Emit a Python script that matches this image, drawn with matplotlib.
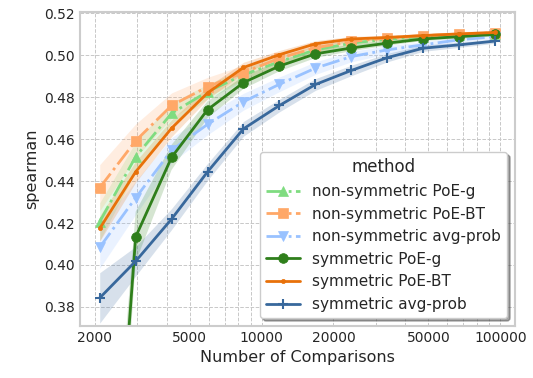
import matplotlib
matplotlib.use("Agg")
import matplotlib.pyplot as plt
import matplotlib.ticker as mticker
import numpy as np
import seaborn as sns

# ---------------------------------------------------------------------------
# Data
# ---------------------------------------------------------------------------
n_comparisons = [2100, 2970, 4200, 5940, 8400, 11880, 16800, 23760, 33600, 47520, 67200, 95040]

ns_poe_g  = [0.4206, 0.4516, 0.4723, 0.4826, 0.4906, 0.4969, 0.5025, 0.5057, 0.5076, 0.5088, 0.5095, 0.5100]
ns_poe_bt = [0.4368, 0.4592, 0.4760, 0.4849, 0.4917, 0.4985, 0.5035, 0.5065, 0.5082, 0.5093, 0.5100, 0.5106]
ns_avg    = [0.4084, 0.4320, 0.4547, 0.4670, 0.4778, 0.4861, 0.4938, 0.4993, 0.5025, 0.5049, 0.5073, 0.5088]
s_poe_g   = [0.1800, 0.4134, 0.4513, 0.4740, 0.4869, 0.4948, 0.5006, 0.5034, 0.5057, 0.5077, 0.5088, 0.5099]
s_poe_bt  = [0.4174, 0.4444, 0.4652, 0.4820, 0.4941, 0.5002, 0.5054, 0.5077, 0.5084, 0.5093, 0.5101, 0.5108]
s_avg     = [0.3843, 0.4018, 0.4219, 0.4444, 0.4649, 0.4760, 0.4860, 0.4927, 0.4988, 0.5033, 0.5049, 0.5067]

# confidence band half-widths
ns_poe_g_ci  = [0.009, 0.007, 0.005, 0.0035, 0.003, 0.0025, 0.002, 0.0015, 0.0012, 0.001, 0.001, 0.001]
ns_poe_bt_ci = [0.011, 0.008, 0.006, 0.0045, 0.0035, 0.003, 0.002, 0.0015, 0.0012, 0.001, 0.001, 0.001]
ns_avg_ci    = [0.010, 0.008, 0.006, 0.005, 0.004, 0.0035, 0.003, 0.0025, 0.002, 0.0015, 0.0012, 0.001]
s_poe_g_ci   = [0.030, 0.012, 0.006, 0.004, 0.003, 0.0025, 0.002, 0.0015, 0.0012, 0.001, 0.001, 0.001]
s_poe_bt_ci  = [0.006, 0.005, 0.004, 0.003, 0.0025, 0.002, 0.0015, 0.0012, 0.001, 0.001, 0.001, 0.001]
s_avg_ci     = [0.012, 0.007, 0.005, 0.004, 0.0035, 0.003, 0.0028, 0.0025, 0.002, 0.0015, 0.0012, 0.001]

series = [
    # label, values, ci, colour, marker, markersize, linestyle
    ('non-symmetric PoE-g',      ns_poe_g,  ns_poe_g_ci,  '#7fdc80', '^', 7, '-.'),
    ('non-symmetric PoE-BT',     ns_poe_bt, ns_poe_bt_ci, '#ffa868', 's', 7, '-.'),
    ('non-symmetric avg-prob',   ns_avg,    ns_avg_ci,    '#99c2ff', 'v', 7, '-.'),
    ('symmetric PoE-g',          s_poe_g,   s_poe_g_ci,   '#2f7f1b', 'o', 7, '-'),
    ('symmetric PoE-BT',         s_poe_bt,  s_poe_bt_ci,  '#e8710a', '.', 6, '-'),
    ('symmetric avg-prob',       s_avg,     s_avg_ci,     '#38689c', '+', 7, '-'),
]

# ---------------------------------------------------------------------------
# Plot
# ---------------------------------------------------------------------------
sns.set_theme(style='whitegrid')
plt.rcParams['font.family'] = ['DejaVu Sans']
plt.rcParams['grid.linestyle'] = '--'
plt.rcParams['grid.linewidth'] = 0.7
plt.rcParams['grid.color'] = '#c8c8c8'
plt.rcParams['axes.edgecolor'] = '#cccccc'

fig, ax = plt.subplots(figsize=(5.33, 3.78), dpi=100)
fig.subplots_adjust(left=0.150, right=0.966, top=0.968, bottom=0.138)

x = np.array(n_comparisons)
for label, vals, ci, col, mk, ms, ls in series:
    vals = np.array(vals)
    ci = np.array(ci)
    ax.fill_between(x, vals - ci, vals + ci, color=col, alpha=0.2, linewidth=0)
    ax.plot(x, vals, color=col, marker=mk, markersize=ms, linestyle=ls,
            linewidth=2, markeredgewidth=1.5 if mk == '+' else 0.5,
            markeredgecolor=col, label=label)

ax.set_xscale('log')
ax.set_ylim(0.371, 0.5205)
ax.set_yticks(np.arange(0.38, 0.5201, 0.02))
ax.yaxis.set_major_formatter(mticker.FormatStrFormatter('%.2f'))

ax.xaxis.set_major_locator(mticker.FixedLocator([2000, 5000, 10000, 20000, 50000, 100000]))
ax.xaxis.set_major_formatter(mticker.FuncFormatter(lambda v, p: f'{int(round(v))}'))
minor = [m * 10 ** e for e in (3, 4) for m in range(2, 10)] + [100000]
ax.xaxis.set_minor_locator(mticker.FixedLocator(minor))
ax.xaxis.set_minor_formatter(mticker.NullFormatter())
ax.grid(True, which='both', axis='x')
ax.grid(True, which='major', axis='y')
ax.tick_params(axis='both', labelsize=10, colors='#262626', length=0)

for sp in ax.spines.values():
    sp.set_color('#cccccc')
    sp.set_linewidth(1.5)

ax.set_xlabel('Number of Comparisons', fontsize=11.5, color='#262626')
ax.set_ylabel('spearman', fontsize=11.5, color='#262626')

leg = ax.legend(title='method', loc='lower right', fontsize=11, title_fontsize=12,
                frameon=True, shadow=True, fancybox=True, handlelength=2.2)
leg.get_frame().set_edgecolor('#cccccc')

fig.savefig('out.png', dpi=100)
